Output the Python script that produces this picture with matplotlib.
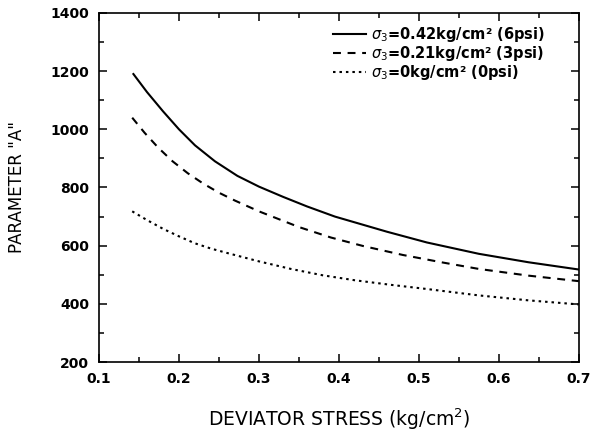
import matplotlib
matplotlib.use('Agg')
import matplotlib.pyplot as plt
from matplotlib.ticker import MultipleLocator

plt.rcParams['font.family'] = ['DejaVu Sans']
plt.rcParams['mathtext.fontset'] = 'dejavusans'

# readings (deviator stress kg/cm2, parameter A)
stress_6psi = [0.143, 0.16, 0.18, 0.2, 0.22, 0.245, 0.273, 0.30, 0.33, 0.36, 0.395,
               0.43, 0.46, 0.51, 0.575, 0.637, 0.70]
param_6psi = [1190, 1128, 1062, 1000, 945, 890, 840, 803, 768, 735, 700,
              672, 648, 611, 572, 543, 518]

stress_3psi = [0.1415, 0.157, 0.174, 0.192, 0.211, 0.23, 0.25, 0.27, 0.30, 0.35, 0.39,
               0.43, 0.48, 0.53, 0.575, 0.637, 0.70]
param_3psi = [1040, 988, 937, 890, 849, 814, 782, 755, 718, 664, 628,
              599, 568, 542, 520, 497, 478]

stress_0psi = [0.1415, 0.16, 0.18, 0.2, 0.22, 0.24, 0.26, 0.30, 0.34, 0.38, 0.42,
               0.466, 0.51, 0.575, 0.637, 0.70]
param_0psi = [718, 688, 658, 632, 608, 590, 575, 546, 520, 498, 481,
              465, 451, 429, 412, 398]

labels = [r'$\sigma_3$=0.42kg/cm² (6psi)',
          r'$\sigma_3$=0.21kg/cm² (3psi)',
          r'$\sigma_3$=0kg/cm² (0psi)']

fig = plt.figure(figsize=(5.93, 4.32), dpi=100)
ax = fig.add_axes([0.167, 0.162, 0.809, 0.808])

ax.plot(stress_6psi, param_6psi, color='black', lw=1.5, ls='-', label=labels[0])
ax.plot(stress_3psi, param_3psi, color='black', lw=1.5, ls=(0, (3.8, 3.2)), label=labels[1])
ax.plot(stress_0psi, param_0psi, color='black', lw=1.5, ls=(0, (1.2, 1.9)), label=labels[2])

ax.set_xlim(0.1, 0.7)
ax.set_ylim(200, 1400)
ax.xaxis.set_major_locator(MultipleLocator(0.1))
ax.xaxis.set_minor_locator(MultipleLocator(0.05))
ax.yaxis.set_major_locator(MultipleLocator(200))
ax.yaxis.set_minor_locator(MultipleLocator(100))
ax.tick_params(which='both', direction='in', top=True, right=True, width=1.1)
ax.tick_params(which='major', length=6, labelsize=10, pad=7)
ax.tick_params(which='minor', length=3.5)
for lab in ax.get_xticklabels() + ax.get_yticklabels():
    lab.set_fontweight('bold')
for sp in ax.spines.values():
    sp.set_linewidth(1.2)

ax.set_xlabel(r'DEVIATOR STRESS (kg/cm$^2$)', fontsize=13.5, labelpad=15)
ax.set_ylabel('PARAMETER "A"', fontsize=12, labelpad=18)

leg = ax.legend(loc='upper right', frameon=False, handlelength=2.3,
                handletextpad=0.35, labelspacing=0.0, borderpad=0,
                prop={'weight': 'bold', 'size': 10.5},
                bbox_to_anchor=(0.945, 0.985))

fig.savefig('out.png', dpi=100)
